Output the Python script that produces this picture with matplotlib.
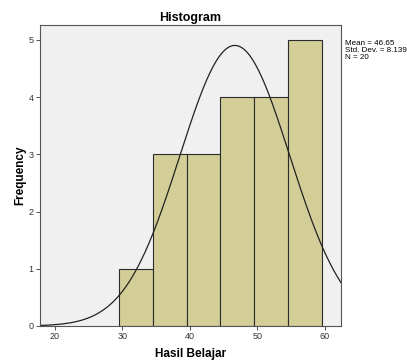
import numpy as np
from matplotlib import pyplot as plt

plt.rcParams['font.family'] = ['Liberation Sans', 'DejaVu Sans']

# Data
bin_edges = [29.5, 34.5, 39.5, 44.5, 49.5, 54.5, 59.5]
counts = [1, 3, 3, 4, 4, 5]
mean = 46.65
std_dev = 8.139
n_total = 20
x_ticks = [20, 30, 40, 50, 60]
y_ticks = [0, 1, 2, 3, 4, 5]

fig = plt.figure(figsize=(4.07, 3.61), dpi=100)
ax = fig.add_axes([0.0983, 0.097, 0.74, 0.834])
ax.set_facecolor('#f0f0f0')

lefts = bin_edges[:-1]
widths = np.diff(bin_edges)
ax.bar(lefts, counts, width=widths, align='edge', color='#d3ce98',
       edgecolor='#2b2b2b', linewidth=0.8)

# Normal curve
bw = widths[0]
xs = np.linspace(17.8, 62.4, 300)
ys = n_total * bw / (std_dev * np.sqrt(2 * np.pi)) * np.exp(-0.5 * ((xs - mean) / std_dev) ** 2)
ax.plot(xs, ys, color='#222222', linewidth=0.9)

ax.set_xlim(17.8, 62.4)
ax.set_ylim(0, 5.26)
ax.set_xticks(x_ticks)
ax.set_yticks(y_ticks)
ax.tick_params(labelsize=6.5, length=3, width=0.6, colors='#333333', pad=1.5)
for s in ax.spines.values():
    s.set_color('#555555')
    s.set_linewidth(0.8)

ax.set_title('Histogram', fontsize=9, fontweight='bold', pad=3)
ax.set_xlabel('Hasil Belajar', fontsize=8.5, fontweight='bold', labelpad=5)
ax.set_ylabel('Frequency', fontsize=8.5, fontweight='bold', labelpad=2)

fig.text(0.848, 0.888, 'Mean = %.2f\nStd. Dev. = %.3f\nN = %d' % (mean, std_dev, n_total),
         fontsize=5.8, va='top', ha='left', linespacing=0.95)

fig.savefig('out.png', dpi=100)
